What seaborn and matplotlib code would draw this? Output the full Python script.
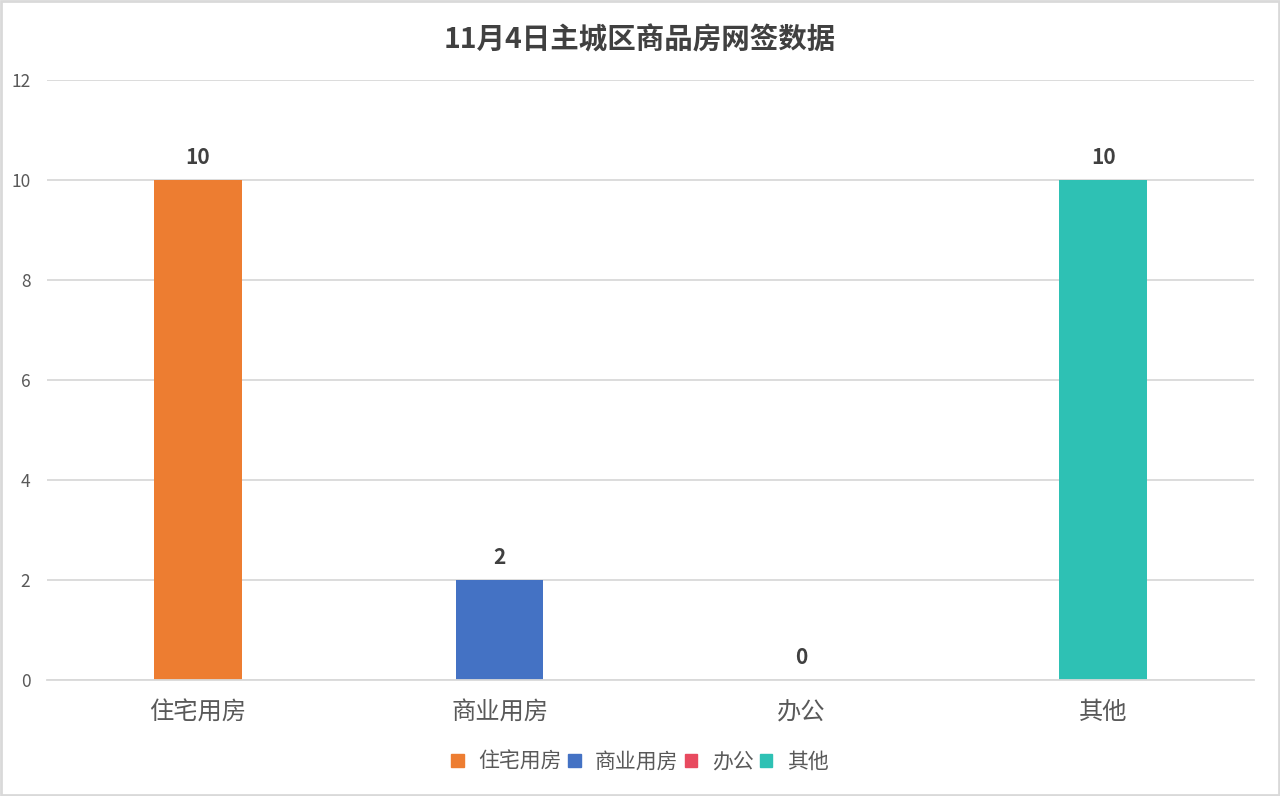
import matplotlib
matplotlib.use('Agg')
import matplotlib.pyplot as plt
import matplotlib.patches as mpatches
import seaborn as sns
import pandas as pd

categories = ['住宅用房', '商业用房', '办公', '其他']
values = [10, 2, 0, 10]
colors = ['#ED7D31', '#4472C4', '#E84A5F', '#2EC1B4']
y_ticks = [0, 2, 4, 6, 8, 10, 12]
title = '11月4日主城区商品房网签数据'

sns.set_theme(style='white')
plt.rcParams['font.family'] = ['Noto Sans CJK SC', 'DejaVu Sans']

df = pd.DataFrame({'类型': categories, '套数': values})

fig = plt.figure(figsize=(12.8, 7.96), dpi=100, facecolor='white')
ax = fig.add_axes([47 / 1280, 1 - 680 / 796, (1254 - 47) / 1280, 600 / 796])

sns.barplot(data=df, x='类型', y='套数', hue='类型', palette=colors,
            width=0.29, dodge=False, legend=False, ax=ax, saturation=1,
            linewidth=0)

ax.set_ylim(0, 12)
ax.set_xlim(-0.5, len(categories) - 0.5)
ax.set_yticks(y_ticks)
ax.yaxis.grid(True, color='#D9D9D9', linewidth=1.3)
ax.set_axisbelow(True)
for s in ['top', 'right', 'left']:
    ax.spines[s].set_visible(False)
ax.spines['bottom'].set_color('#D9D9D9')
ax.spines['bottom'].set_linewidth(1.3)
ax.set_xlabel('')
ax.set_ylabel('')
ax.tick_params(axis='x', labelsize=17.5, colors='#595959', length=0, pad=14)
ax.tick_params(axis='y', labelsize=12.5, colors='#595959', length=0, pad=12)

for c in ax.containers:
    ax.bar_label(c, fmt='%g', padding=9, fontsize=15, fontweight='bold', color='#404040')

fig.text(0.5, 1 - 40 / 796, title, ha='center', va='center',
         fontsize=20.5, fontweight='bold', color='#404040')

handles = [mpatches.Patch(color=col, label=cat) for cat, col in zip(categories, colors)]
fig.legend(handles=handles, loc='center', bbox_to_anchor=(0.5, 1 - 762 / 796), ncol=4,
           frameon=False, fontsize=15, handlelength=0.6, handleheight=0.6,
           handletextpad=0.7, columnspacing=0.3, labelcolor='#595959')

fig.patches.append(mpatches.Rectangle((0.001, 0.001), 0.998, 0.998, transform=fig.transFigure,
                                      fill=False, edgecolor='#D9D9D9', linewidth=2))

fig.savefig('out.png', dpi=100, facecolor='white')
